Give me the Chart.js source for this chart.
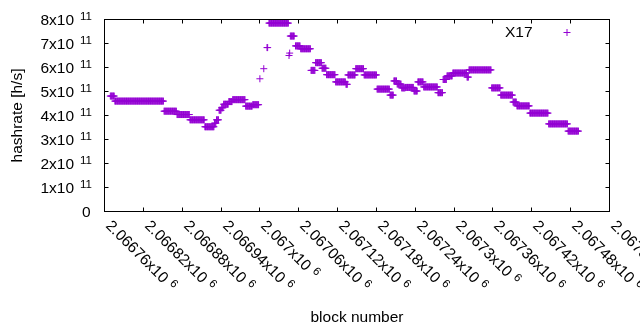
<!DOCTYPE html>
<html>
<head>
<meta charset="utf-8">
<script src="https://cdn.jsdelivr.net/npm/chart.js@4/dist/chart.umd.min.js"></script>
<style>
  html, body { margin: 0; padding: 0; background: #fff; }
  #wrap { width: 640px; height: 330px; }
</style>
</head>
<body>
<div id="wrap"><canvas id="c" width="640" height="330"></canvas></div>
<script>
// ---- data (runs of blocks sharing the same hashrate estimate) ----
const seriesLabel = 'X17';
const runStart = [2066769, 2066776, 2066852, 2066872, 2066892, 2066915, 2066930, 2066933, 2066937, 2066941,
  2066944, 2066952, 2066958, 2066978, 2066989, 2067000, 2067006, 2067011, 2067014, 2067045,
  2067046, 2067047, 2067055, 2067063, 2067079, 2067086, 2067096, 2067103, 2067117, 2067133,
  2067136, 2067148, 2067161, 2067181, 2067201, 2067207, 2067212, 2067219, 2067225, 2067238,
  2067244, 2067253, 2067275, 2067283, 2067289, 2067298, 2067320, 2067323, 2067358, 2067372,
  2067391, 2067397, 2067417, 2067446, 2067476];
const runEnd = [2066775, 2066851, 2066871, 2066891, 2066914, 2066929, 2066932, 2066936, 2066940, 2066943,
  2066951, 2066957, 2066977, 2066988, 2066998, 2067000, 2067006, 2067012, 2067044, 2067045,
  2067046, 2067053, 2067062, 2067078, 2067085, 2067095, 2067102, 2067116, 2067132, 2067135,
  2067147, 2067160, 2067180, 2067200, 2067206, 2067211, 2067218, 2067224, 2067237, 2067243,
  2067252, 2067274, 2067282, 2067288, 2067297, 2067319, 2067322, 2067357, 2067371, 2067390,
  2067396, 2067416, 2067445, 2067475, 2067492];
const runHashrate = [4.81e11, 4.60e11, 4.18e11, 4.04e11, 3.82e11, 3.53e11, 3.68e11, 3.82e11, 4.22e11, 4.32e11,
  4.47e11, 4.58e11, 4.66e11, 4.39e11, 4.45e11, 5.53e11, 5.95e11, 6.83e11, 7.85e11, 6.50e11,
  6.60e11, 7.31e11, 6.90e11, 6.78e11, 5.88e11, 6.20e11, 5.97e11, 5.70e11, 5.40e11, 5.30e11,
  5.69e11, 5.95e11, 5.69e11, 5.10e11, 4.85e11, 5.44e11, 5.31e11, 5.15e11, 5.17e11, 5.02e11,
  5.40e11, 5.19e11, 4.95e11, 5.50e11, 5.65e11, 5.77e11, 5.60e11, 5.90e11, 5.15e11, 4.85e11,
  4.56e11, 4.40e11, 4.10e11, 3.65e11, 3.35e11];

const xTickValues = [2066760, 2066820, 2066880, 2066940, 2067000, 2067060, 2067120, 2067180,
  2067240, 2067300, 2067360, 2067420, 2067480, 2067540];
const yTickValues = [0, 1e11, 2e11, 3e11, 4e11, 5e11, 6e11, 7e11, 8e11];
const xTitle = 'block number';
const yTitle = 'hashrate [h/s]';

// ---- build points ----
const points = [];
for (let i = 0; i < runStart.length; i++) {
  for (let b = runStart[i]; b <= runEnd[i]; b++) points.push({ x: b, y: runHashrate[i] });
}

const COLOR = '#9400D3';
const FONT = '"Liberation Sans", Arial, sans-serif';
const MAIN = 15.5, SUP = 11.5, TICK = 4;

function sci(v) {
  if (v === 0) return { m: '0', e: '' };
  const e = Math.floor(Math.log10(Math.abs(v)) + 1e-9);
  const m = parseFloat((v / Math.pow(10, e)).toPrecision(6));
  return { m: m + 'x10', e: String(e) };
}

const gnuplotFrame = {
  id: 'gnuplotFrame',
  afterDraw(chart) {
    const { ctx, chartArea: { left, right, top, bottom }, scales: { x, y } } = chart;
    ctx.save();
    ctx.strokeStyle = '#000';
    ctx.lineWidth = 1;
    ctx.fillStyle = '#000';
    // frame
    ctx.strokeRect(left, top, right - left, bottom - top);
    // x ticks + labels
    x.ticks.forEach(t => {
      const px = Math.floor(x.getPixelForValue(t.value)) + 0.5;
      ctx.beginPath();
      ctx.moveTo(px, bottom); ctx.lineTo(px, bottom - TICK);
      ctx.moveTo(px, top); ctx.lineTo(px, top + TICK);
      ctx.stroke();
      const s = sci(t.value);
      ctx.save();
      ctx.translate(px + 0.5, bottom + 15);
      ctx.rotate(Math.PI / 4);
      ctx.textAlign = 'left';
      ctx.textBaseline = 'alphabetic';
      ctx.font = MAIN + 'px ' + FONT;
      ctx.fillText(s.m, 0, 0);
      const w = ctx.measureText(s.m).width;
      ctx.font = SUP + 'px ' + FONT;
      ctx.fillText(s.e, w + 5, -4.7);
      ctx.restore();
    });
    // y ticks + labels
    y.ticks.forEach(t => {
      const py = Math.floor(y.getPixelForValue(t.value)) + 0.5;
      ctx.beginPath();
      ctx.moveTo(left, py); ctx.lineTo(left + TICK, py);
      ctx.moveTo(right, py); ctx.lineTo(right - TICK, py);
      ctx.stroke();
      const s = sci(t.value);
      ctx.textBaseline = 'alphabetic';
      ctx.textAlign = 'right';
      if (s.e) {
        ctx.font = SUP + 'px ' + FONT;
        const we = ctx.measureText(s.e).width;
        ctx.fillText(s.e, 92, py + 5.3 - 4.7);
        ctx.font = MAIN + 'px ' + FONT;
        ctx.fillText(s.m, 92 - we - 6, py + 5.3);
      } else {
        ctx.font = MAIN + 'px ' + FONT;
        ctx.fillText(s.m, 90.5, py + 5.3);
      }
    });
    // axis titles
    ctx.font = MAIN + 'px ' + FONT;
    ctx.textAlign = 'center';
    ctx.textBaseline = 'alphabetic';
    ctx.fillText(xTitle, (left + right) / 2, 321.5);
    ctx.save();
    ctx.translate(21.5, (top + bottom) / 2);
    ctx.rotate(-Math.PI / 2);
    ctx.fillText(yTitle, 0, 0);
    ctx.restore();
    // legend
    ctx.textAlign = 'right';
    ctx.fillText(chart.data.datasets[0].label, 532.5, 37.3);
    ctx.strokeStyle = COLOR;
    ctx.lineWidth = 1;
    ctx.beginPath();
    ctx.moveTo(563.5, 32.5); ctx.lineTo(570.5, 32.5);
    ctx.moveTo(567, 29); ctx.lineTo(567, 36);
    ctx.stroke();
    ctx.restore();
  }
};

new Chart(document.getElementById('c'), {
  type: 'scatter',
  data: {
    datasets: [{
      label: seriesLabel,
      data: points,
      pointStyle: 'cross',
      pointRadius: 3.5,
      pointBorderWidth: 1,
      borderColor: COLOR,
      backgroundColor: COLOR,
      showLine: false
    }]
  },
  options: {
    responsive: false,
    animation: false,
    events: [],
    layout: { padding: { left: 104.5, right: 30.5, top: 19.5, bottom: 118.5 } },
    plugins: { legend: { display: false }, tooltip: { enabled: false } },
    scales: {
      x: {
        type: 'linear', min: 2066760, max: 2067540,
        afterBuildTicks: s => { s.ticks = xTickValues.map(v => ({ value: v })); },
        afterFit: s => { s.height = 0; },
        ticks: { display: false }, grid: { display: false }, border: { display: false }
      },
      y: {
        type: 'linear', min: 0, max: 8e11,
        afterBuildTicks: s => { s.ticks = yTickValues.map(v => ({ value: v })); },
        afterFit: s => { s.width = 0; },
        ticks: { display: false }, grid: { display: false }, border: { display: false }
      }
    }
  },
  plugins: [gnuplotFrame]
});
</script>
</body>
</html>
